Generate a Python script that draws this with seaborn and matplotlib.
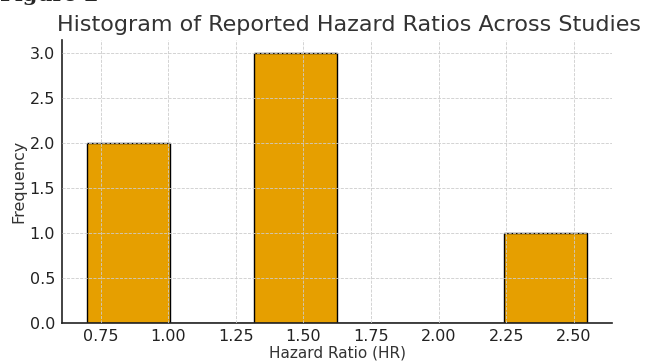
import numpy as np
import pandas as pd
import matplotlib
matplotlib.use('Agg')
import matplotlib.pyplot as plt
import seaborn as sns

# --- Dados (razões de risco reportadas) ---
hazard_ratios = [0.70, 0.92, 1.35, 1.48, 1.60, 2.55]
n_bins = 6
bar_color = '#E69F00'
x_ticks = [0.75, 1.00, 1.25, 1.50, 1.75, 2.00, 2.25, 2.50]

df = pd.DataFrame({'HR': hazard_ratios})

sns.set_style('white')
plt.rcParams['font.family'] = ['DejaVu Sans']

fig = plt.figure(figsize=(6.49, 3.63), dpi=100)
ax = fig.add_axes([0.0955, 0.110, 0.848, 0.781])

sns.histplot(data=df, x='HR', bins=n_bins, color=bar_color, alpha=1.0,
             edgecolor='black', linewidth=1.0, ax=ax)

ax.set_axisbelow(False)
ax.grid(True, linestyle='--', color='#cccccc', linewidth=0.6)
ax.set_xticks(x_ticks)
ax.set_xticklabels([f'{t:.2f}' for t in x_ticks])
ax.set_yticks(np.arange(0, 3.01, 0.5))
ax.tick_params(axis='both', labelsize=11.5, colors='#222222', direction='in', length=3)
ax.tick_params(axis='y', pad=5)
ax.tick_params(axis='x', pad=4)
sns.despine(ax=ax)
for s in ['left', 'bottom']:
    ax.spines[s].set_color('#222222')
    ax.spines[s].set_linewidth(1.2)

ax.set_title('Histogram of Reported Hazard Ratios Across Studies', fontsize=16,
             color='#333333', pad=6, x=0.521)
ax.set_xlabel('Hazard Ratio (HR)', fontsize=11, color='#333333', va='center')
ax.xaxis.set_label_coords(0.5, -0.107)
ax.set_ylabel('Frequency', fontsize=11.5, color='#333333', labelpad=2)

fig.text(0.0, 0.997, 'Figure 2', fontsize=15, fontweight='bold', family='DejaVu Serif', va='baseline')

fig.savefig('out.png', dpi=100)
